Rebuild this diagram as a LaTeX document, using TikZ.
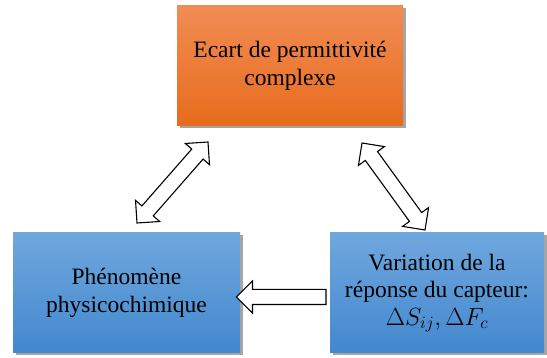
\documentclass[tikz,border=0pt]{standalone}
\usepackage{fontspec}
\setmainfont{Liberation Serif}
\usetikzlibrary{shapes.arrows,shadows,calc}
\definecolor{orangeTop}{RGB}{241,140,84}
\definecolor{orangeBot}{RGB}{231,108,28}
\definecolor{blueTop}{RGB}{112,167,222}
\definecolor{blueBot}{RGB}{66,136,206}
\tikzset{
  box/.style={rectangle, inner sep=0pt, minimum height=120pt, align=center,
    font=\fontsize{23.5}{27.5}\selectfont,
    drop shadow={shadow xshift=2.5pt, shadow yshift=-2.5pt, opacity=0.35, fill=black}},
  orangebox/.style={box, top color=orangeTop, bottom color=orangeBot},
  bluebox/.style={box, top color=blueTop, bottom color=blueBot},
  dblarrow/.style={double arrow, draw=black, fill=white, line width=1.1pt,
    inner xsep=0pt, inner ysep=7pt, double arrow head extend=8.5pt,
    double arrow tip angle=90, double arrow head indent=0pt},
  sglarrow/.style={single arrow, draw=black, fill=white, line width=1.1pt,
    inner xsep=0pt, inner ysep=7pt, single arrow head extend=8.5pt,
    single arrow tip angle=90, single arrow head indent=0pt}
}
\begin{document}
\begin{tikzpicture}[x=1pt,y=1pt]
\useasboundingbox[fill=white] (0,0) rectangle (547,358);
\node[orangebox, minimum width=226pt] (top) at (290,292) {Ecart de permittivité\\complexe};
\node[bluebox, minimum width=227pt] (left) at (126.5,65) {Phénomène\\physicochimique};
\node[bluebox, minimum width=214pt] (right) at (437,65) {Variation de la\\réponse du capteur:\\$\Delta S_{ij}, \Delta F_c$};
% arrow end points
\coordinate (a1) at (137,135);
\coordinate (b1) at (208,216);
\coordinate (a2) at (362,215);
\coordinate (b2) at (425,128);
\path let \p1=($(b1)-(a1)$), \n1={veclen(\x1,\y1)}, \n2={atan2(\y1,\x1)} in
  node[dblarrow, minimum height=\n1, rotate=\n2] (arrL) at ($(a1)!0.5!(b1)$) {};
\path let \p1=($(b2)-(a2)$), \n1={veclen(\x1,\y1)}, \n2={atan2(\y1,\x1)} in
  node[dblarrow, minimum height=\n1, rotate=\n2] (arrR) at ($(a2)!0.5!(b2)$) {};
\path let \p1=($(right.west)-(left.east)$), \n1={veclen(\x1,\y1)} in
  node[sglarrow, minimum height=\n1, rotate=180] (arrH) at ($(left.east)!0.5!(right.west)+(0,-4)$) {};
\end{tikzpicture}
\end{document}
